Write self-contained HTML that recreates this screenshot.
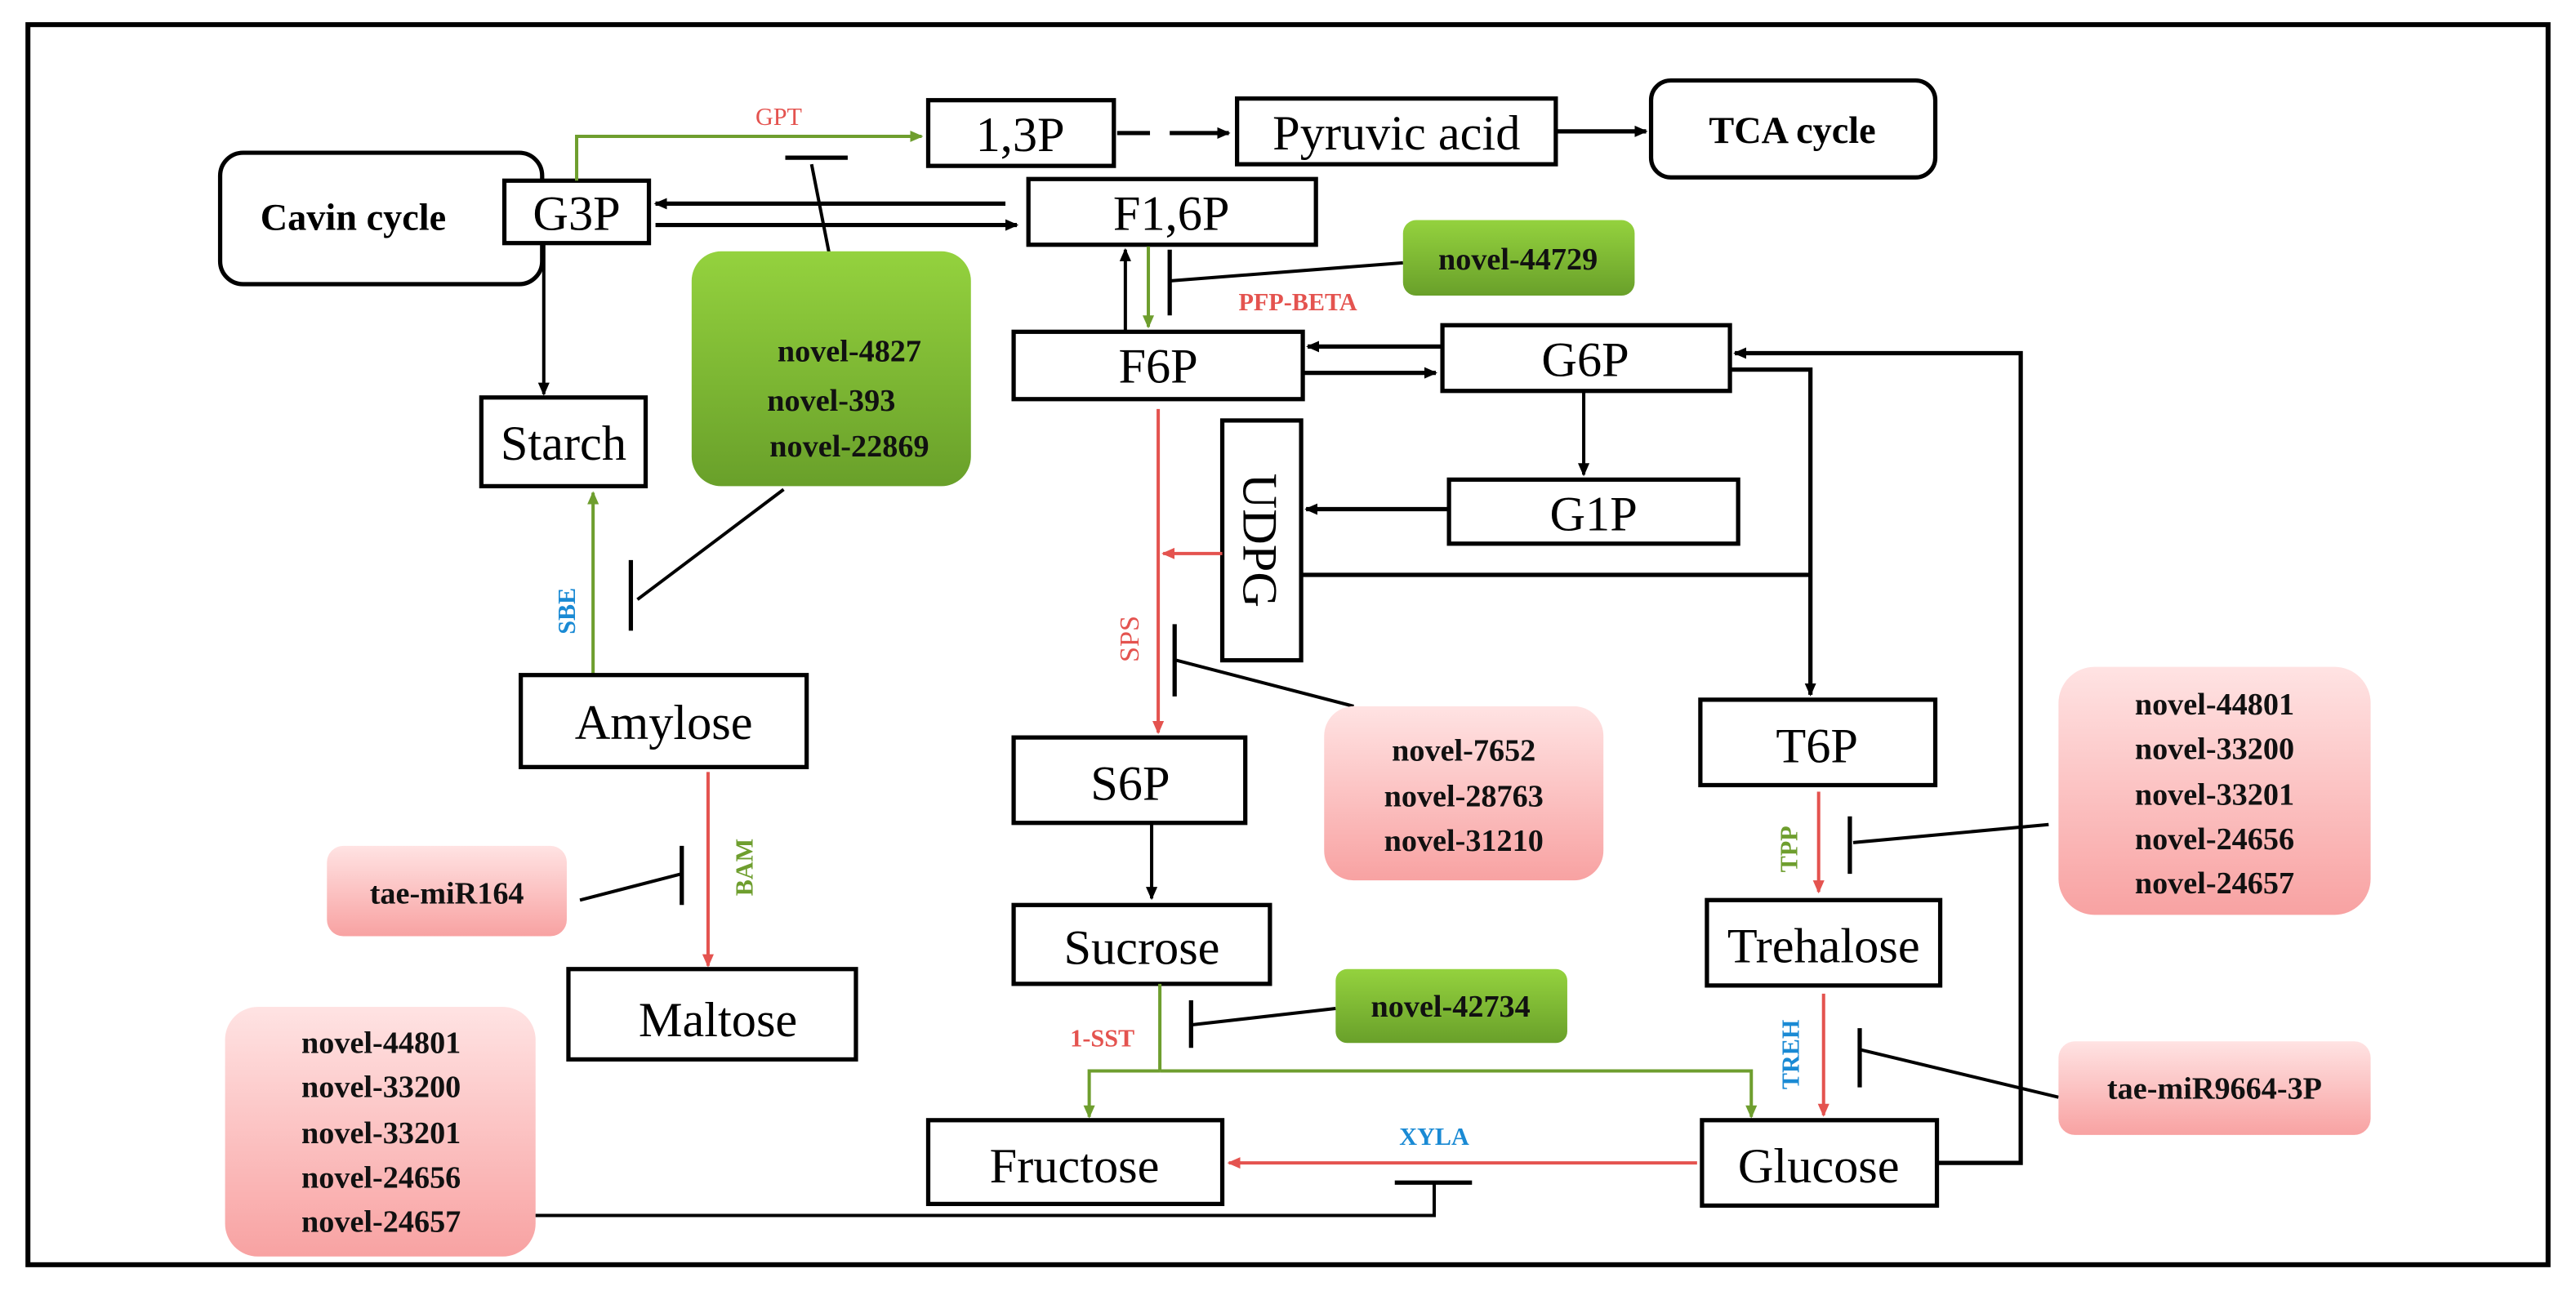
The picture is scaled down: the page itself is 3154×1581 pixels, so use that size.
<!DOCTYPE html>
<html><head><meta charset="utf-8"><style>
html,body{margin:0;padding:0;background:#fff;}
svg{display:block;}
.bx{fill:#fff;stroke:#000;stroke-width:2.6;}
.t{font-family:"Liberation Serif",serif;font-size:30px;fill:#000;text-anchor:middle;}
.m{font-family:"Liberation Serif",serif;font-size:19px;font-weight:bold;fill:#111;text-anchor:middle;}
.e{font-family:"Liberation Serif",serif;font-size:15px;font-weight:bold;text-anchor:middle;}
.k{stroke:#000;stroke-width:2;fill:none;}
.kb{stroke:#000;stroke-width:2.6;fill:none;}
.g{stroke:#6e9e2e;stroke-width:2;fill:none;}
.r{stroke:#e4534f;stroke-width:2;fill:none;}
</style></head><body>
<svg width="3154" height="1581" viewBox="0 0 1568 786" preserveAspectRatio="none" xmlns="http://www.w3.org/2000/svg">
<defs>
<marker id="ak" markerWidth="8" markerHeight="8" refX="7" refY="4" orient="auto" markerUnits="userSpaceOnUse"><path d="M0,0.5 L8,4 L0,7.5 z" fill="#000"/></marker>
<marker id="ag" markerWidth="8" markerHeight="8" refX="7" refY="4" orient="auto" markerUnits="userSpaceOnUse"><path d="M0,0.5 L8,4 L0,7.5 z" fill="#6e9e2e"/></marker>
<marker id="ar" markerWidth="8" markerHeight="8" refX="7" refY="4" orient="auto" markerUnits="userSpaceOnUse"><path d="M0,0.5 L8,4 L0,7.5 z" fill="#e4534f"/></marker>
<linearGradient id="gg" x1="0" y1="0" x2="0" y2="1"><stop offset="0" stop-color="#94d23e"/><stop offset="1" stop-color="#69a02a"/></linearGradient>
<linearGradient id="pg" x1="0" y1="0" x2="0" y2="1"><stop offset="0" stop-color="#ffe3e3"/><stop offset="1" stop-color="#f8a2a2"/></linearGradient>
</defs>
<rect x="17" y="15" width="1534" height="755" fill="none" stroke="#000" stroke-width="3"/>

<!-- top row -->
<rect x="134" y="93" width="196" height="80" rx="14" class="bx"/>
<text x="215" y="140" class="t" style="font-weight:bold;font-size:23px">Cavin  cycle</text>
<rect x="307" y="110" width="88" height="38" class="bx"/>
<text x="351" y="140" class="t">G3P</text>
<path d="M351,110 V83 H561" class="g" marker-end="url(#ag)"/>
<text x="474" y="76" class="e" fill="#e4534f" style="font-weight:normal">GPT</text>
<line x1="478" y1="96" x2="516" y2="96" class="kb"/>
<line x1="494" y1="100" x2="508" y2="171" class="k"/>
<rect x="565" y="61" width="113" height="40" class="bx"/>
<text x="621" y="92" class="t">1,3P</text>
<path d="M680,81 H700 M712,81 H748" class="kb" marker-end="url(#ak)"/>
<rect x="753" y="60" width="194" height="40" class="bx"/>
<text x="850" y="91" class="t">Pyruvic acid</text>
<line x1="948" y1="80" x2="1002" y2="80" class="kb" marker-end="url(#ak)"/>
<rect x="1005" y="49" width="173" height="59" rx="12" class="bx"/>
<text x="1091" y="87" class="t" style="font-weight:bold;font-size:23px">TCA cycle</text>

<rect x="626" y="109" width="175" height="40" class="bx"/>
<text x="713" y="140" class="t">F1,6P</text>
<line x1="612" y1="124" x2="399" y2="124" class="kb" marker-end="url(#ak)"/>
<line x1="399" y1="137" x2="619" y2="137" class="kb" marker-end="url(#ak)"/>

<!-- green box -->
<rect x="421" y="153" width="170" height="143" rx="18" fill="url(#gg)"/>
<text x="517" y="220" class="m">novel-4827</text>
<text x="506" y="250" class="m">novel-393</text>
<text x="517" y="278" class="m">novel-22869</text>
<line x1="477" y1="298" x2="388" y2="365" class="k"/>
<line x1="384" y1="341" x2="384" y2="384" class="kb"/>

<line x1="331" y1="148" x2="331" y2="240" class="k" marker-end="url(#ak)"/>
<rect x="293" y="242" width="100" height="54" class="bx"/>
<text x="343" y="280" class="t">Starch</text>
<line x1="361" y1="410" x2="361" y2="300" class="g" marker-end="url(#ag)"/>
<text transform="translate(350,372) rotate(-90)" class="e" fill="#1a8ad4">SBE</text>

<rect x="317" y="411" width="174" height="56" class="bx"/>
<text x="404" y="450" class="t">Amylose</text>
<line x1="431" y1="470" x2="431" y2="588" class="r" marker-end="url(#ar)"/>
<text transform="translate(458,528) rotate(-90)" class="e" fill="#6e9e2e">BAM</text>
<rect x="199" y="515" width="146" height="55" rx="10" fill="url(#pg)"/>
<text x="272" y="550" class="m">tae-miR164</text>
<line x1="353" y1="548" x2="415" y2="532" class="k"/>
<line x1="415" y1="515" x2="415" y2="551" class="kb"/>
<rect x="346" y="590" width="175" height="55" class="bx"/>
<text x="437" y="631" class="t">Maltose</text>

<rect x="137" y="613" width="189" height="152" rx="20" fill="url(#pg)"/>
<text x="232" y="641" class="m">novel-44801</text>
<text x="232" y="668" class="m">novel-33200</text>
<text x="232" y="696" class="m">novel-33201</text>
<text x="232" y="723" class="m">novel-24656</text>
<text x="232" y="750" class="m">novel-24657</text>
<path d="M326,740 H873 V720" class="k"/>
<line x1="849" y1="720" x2="896" y2="720" class="kb"/>

<!-- F6P region -->
<rect x="617" y="202" width="176" height="41" class="bx"/>
<text x="705" y="233" class="t">F6P</text>
<line x1="685" y1="202" x2="685" y2="152" class="k" marker-end="url(#ak)"/>
<line x1="699" y1="150" x2="699" y2="199" class="g" marker-end="url(#ag)"/>
<line x1="712" y1="152" x2="712" y2="192" class="kb"/>
<line x1="712" y1="171" x2="854" y2="160" class="k"/>
<text x="790" y="189" class="e" fill="#e4534f">PFP-BETA</text>
<rect x="854" y="134" width="141" height="46" rx="8" fill="url(#gg)"/>
<text x="924" y="164" class="m">novel-44729</text>

<rect x="878" y="198" width="175" height="40" class="bx"/>
<text x="965" y="229" class="t">G6P</text>
<line x1="878" y1="211" x2="796" y2="211" class="kb" marker-end="url(#ak)"/>
<line x1="793" y1="227" x2="874" y2="227" class="kb" marker-end="url(#ak)"/>
<line x1="964" y1="238" x2="964" y2="289" class="k" marker-end="url(#ak)"/>
<rect x="882" y="292" width="176" height="39" class="bx"/>
<text x="970" y="323" class="t">G1P</text>
<rect x="744" y="256" width="48" height="146" class="bx"/>
<line x1="882" y1="310" x2="795" y2="310" class="kb" marker-end="url(#ak)"/>
<text transform="translate(757,329) rotate(90)" class="t">UDPG</text>
<path d="M792,350 H1102" class="kb"/>
<path d="M1053,225 H1102 V423" class="kb" marker-end="url(#ak)"/>
<path d="M1179,708 H1230 V215 H1056" class="kb" marker-end="url(#ak)"/>

<!-- SPS -->
<line x1="705" y1="249" x2="705" y2="446" class="r" marker-end="url(#ar)"/>
<line x1="744" y1="337" x2="708" y2="337" class="r" marker-end="url(#ar)"/>
<text transform="translate(693,389) rotate(-90)" class="e" fill="#e4534f" style="font-weight:normal;font-size:17px">SPS</text>
<line x1="715" y1="380" x2="715" y2="424" class="kb"/>
<line x1="716" y1="402" x2="824" y2="430" class="k"/>
<rect x="806" y="430" width="170" height="106" rx="18" fill="url(#pg)"/>
<text x="891" y="463" class="m">novel-7652</text>
<text x="891" y="491" class="m">novel-28763</text>
<text x="891" y="518" class="m">novel-31210</text>

<rect x="617" y="449" width="141" height="52" class="bx"/>
<text x="688" y="487" class="t">S6P</text>
<line x1="701" y1="502" x2="701" y2="547" class="k" marker-end="url(#ak)"/>
<rect x="617" y="551" width="156" height="48" class="bx"/>
<text x="695" y="587" class="t">Sucrose</text>
<path d="M706,599 V652" class="g"/>
<path d="M706,652 H663 V680" class="g" marker-end="url(#ag)"/>
<path d="M706,652 H1066 V680" class="g" marker-end="url(#ag)"/>
<text x="671" y="637" class="e" fill="#e4534f">1-SST</text>
<line x1="725" y1="609" x2="725" y2="638" class="kb"/>
<line x1="725" y1="624" x2="813" y2="614" class="k"/>
<rect x="813" y="590" width="141" height="45" rx="7" fill="url(#gg)"/>
<text x="883" y="619" class="m">novel-42734</text>

<rect x="565" y="682" width="179" height="51" class="bx"/>
<text x="654" y="720" class="t">Fructose</text>
<line x1="1033" y1="708" x2="748" y2="708" class="r" marker-end="url(#ar)"/>
<text x="873" y="697" class="e" fill="#1a8ad4">XYLA</text>
<rect x="1036" y="682" width="143" height="52" class="bx"/>
<text x="1107" y="720" class="t">Glucose</text>

<!-- T6P column -->
<rect x="1035" y="426" width="143" height="52" class="bx"/>
<text x="1106" y="464" class="t">T6P</text>
<line x1="1107" y1="482" x2="1107" y2="543" class="r" marker-end="url(#ar)"/>
<text transform="translate(1094,517) rotate(-90)" class="e" fill="#6e9e2e">TPP</text>
<line x1="1126" y1="497" x2="1126" y2="532" class="kb"/>
<line x1="1128" y1="513" x2="1247" y2="502" class="k"/>
<rect x="1253" y="406" width="190" height="151" rx="22" fill="url(#pg)"/>
<text x="1348" y="435" class="m">novel-44801</text>
<text x="1348" y="462" class="m">novel-33200</text>
<text x="1348" y="490" class="m">novel-33201</text>
<text x="1348" y="517" class="m">novel-24656</text>
<text x="1348" y="544" class="m">novel-24657</text>
<rect x="1039" y="548" width="142" height="52" class="bx"/>
<text x="1110" y="586" class="t">Trehalose</text>
<line x1="1110" y1="605" x2="1110" y2="679" class="r" marker-end="url(#ar)"/>
<text transform="translate(1095,642) rotate(-90)" class="e" fill="#1a8ad4">TREH</text>
<line x1="1132" y1="626" x2="1132" y2="662" class="kb"/>
<line x1="1132" y1="639" x2="1253" y2="668" class="k"/>
<rect x="1253" y="634" width="190" height="57" rx="10" fill="url(#pg)"/>
<text x="1348" y="669" class="m">tae-miR9664-3P</text>
</svg>
</body></html>
